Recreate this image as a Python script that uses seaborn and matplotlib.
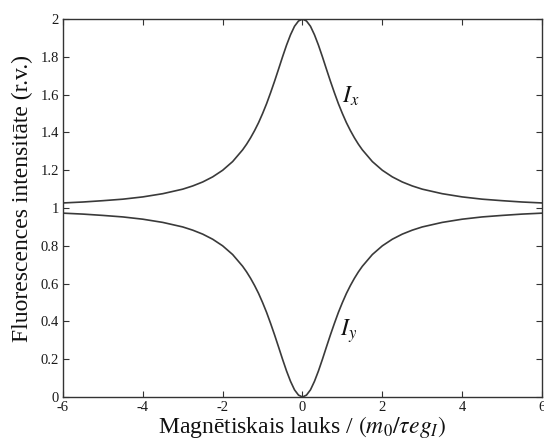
import matplotlib
matplotlib.use("Agg")
import matplotlib.pyplot as plt
import seaborn as sns
import pandas as pd

# Magnetic field values (units of m0 / tau e g_I)
field = [-6, -5.5, -5, -4.5, -4, -3.5, -3, -2.75, -2.5, -2.25, -2, -1.75,
         -1.5, -1.4, -1.3, -1.2, -1.1, -1.0, -0.9, -0.8, -0.7, -0.6, -0.5,
         -0.4, -0.3, -0.2, -0.1, 0.0, 0.1, 0.2, 0.3, 0.4, 0.5, 0.6, 0.7,
         0.8, 0.9, 1.0, 1.1, 1.2, 1.3, 1.4, 1.5, 1.75, 2, 2.25, 2.5, 2.75,
         3, 3.5, 4, 4.5, 5, 5.5, 6]

# Fluorescence intensity, x polarisation
intensity_x = [1.027, 1.032, 1.039, 1.047, 1.059, 1.076, 1.100, 1.117, 1.138,
               1.165, 1.200, 1.246, 1.308, 1.338, 1.372, 1.410, 1.452, 1.500,
               1.552, 1.610, 1.671, 1.735, 1.800, 1.862, 1.917, 1.962, 1.990,
               2.000, 1.990, 1.962, 1.917, 1.862, 1.800, 1.735, 1.671, 1.610,
               1.552, 1.500, 1.452, 1.410, 1.372, 1.338, 1.308, 1.246, 1.200,
               1.165, 1.138, 1.117, 1.100, 1.076, 1.059, 1.047, 1.039, 1.032,
               1.027]

# Fluorescence intensity, y polarisation
intensity_y = [0.973, 0.968, 0.961, 0.953, 0.941, 0.924, 0.900, 0.883, 0.862,
               0.835, 0.800, 0.754, 0.692, 0.662, 0.628, 0.590, 0.548, 0.500,
               0.448, 0.390, 0.329, 0.265, 0.200, 0.138, 0.083, 0.038, 0.010,
               0.000, 0.010, 0.038, 0.083, 0.138, 0.200, 0.265, 0.329, 0.390,
               0.448, 0.500, 0.548, 0.590, 0.628, 0.662, 0.692, 0.754, 0.800,
               0.835, 0.862, 0.883, 0.900, 0.924, 0.941, 0.953, 0.961, 0.968,
               0.973]

x_ticks = [-6, -4, -2, 0, 2, 4, 6]
y_ticks = [0, 0.2, 0.4, 0.6, 0.8, 1, 1.2, 1.4, 1.6, 1.8, 2]
y_tick_labels = ["0", "0.2", "0.4", "0.6", "0.8", "1", "1.2", "1.4", "1.6", "1.8", "2"]

sns.set_style("ticks")
plt.rcParams["font.family"] = ["Liberation Serif", "DejaVu Serif"]
plt.rcParams["mathtext.fontset"] = "stix"

line_color = "#3a3a3a"

df = pd.DataFrame({"B": field + field,
                   "I": intensity_x + intensity_y,
                   "comp": ["x"] * len(field) + ["y"] * len(field)})

fig = plt.figure(figsize=(5.44, 4.42), dpi=100)
ax = fig.add_axes([0.1158, 0.1018, 0.8805, 0.855])

sns.lineplot(data=df, x="B", y="I", units="comp", estimator=None,
             color=line_color, linewidth=1.2, ax=ax, legend=False)

ax.set_xlim(-6, 6)
ax.set_ylim(0, 2)
ax.set_xticks(x_ticks)
ax.set_xticklabels([str(t) for t in x_ticks])
ax.set_yticks(y_ticks)
ax.set_yticklabels(y_tick_labels)

for side in ["top", "right", "left", "bottom"]:
    ax.spines[side].set_visible(True)
    ax.spines[side].set_color("#333333")
    ax.spines[side].set_linewidth(1.0)

ax.tick_params(direction="in", length=4, width=0.8, color="#333333",
               top=True, right=True, labelsize=10.5, labelcolor="#1a1a1a",
               pad=3)

ax.set_xlabel(r"Magnētiskais lauks / $(m_0/\tau e g_I)$", fontsize=17,
              color="#111111", labelpad=0)
ax.set_ylabel("Fluorescences intensitāte (r.v.)", fontsize=17,
              color="#111111", labelpad=5)
ax.yaxis.label.set_y(0.526)

ax.text(1.0, 1.59, r"$I_x$", fontsize=17, color="#111111",
        ha="left", va="center")
ax.text(0.95, 0.35, r"$I_y$", fontsize=17, color="#111111",
        ha="left", va="center")

fig.savefig("out.png", dpi=100)
